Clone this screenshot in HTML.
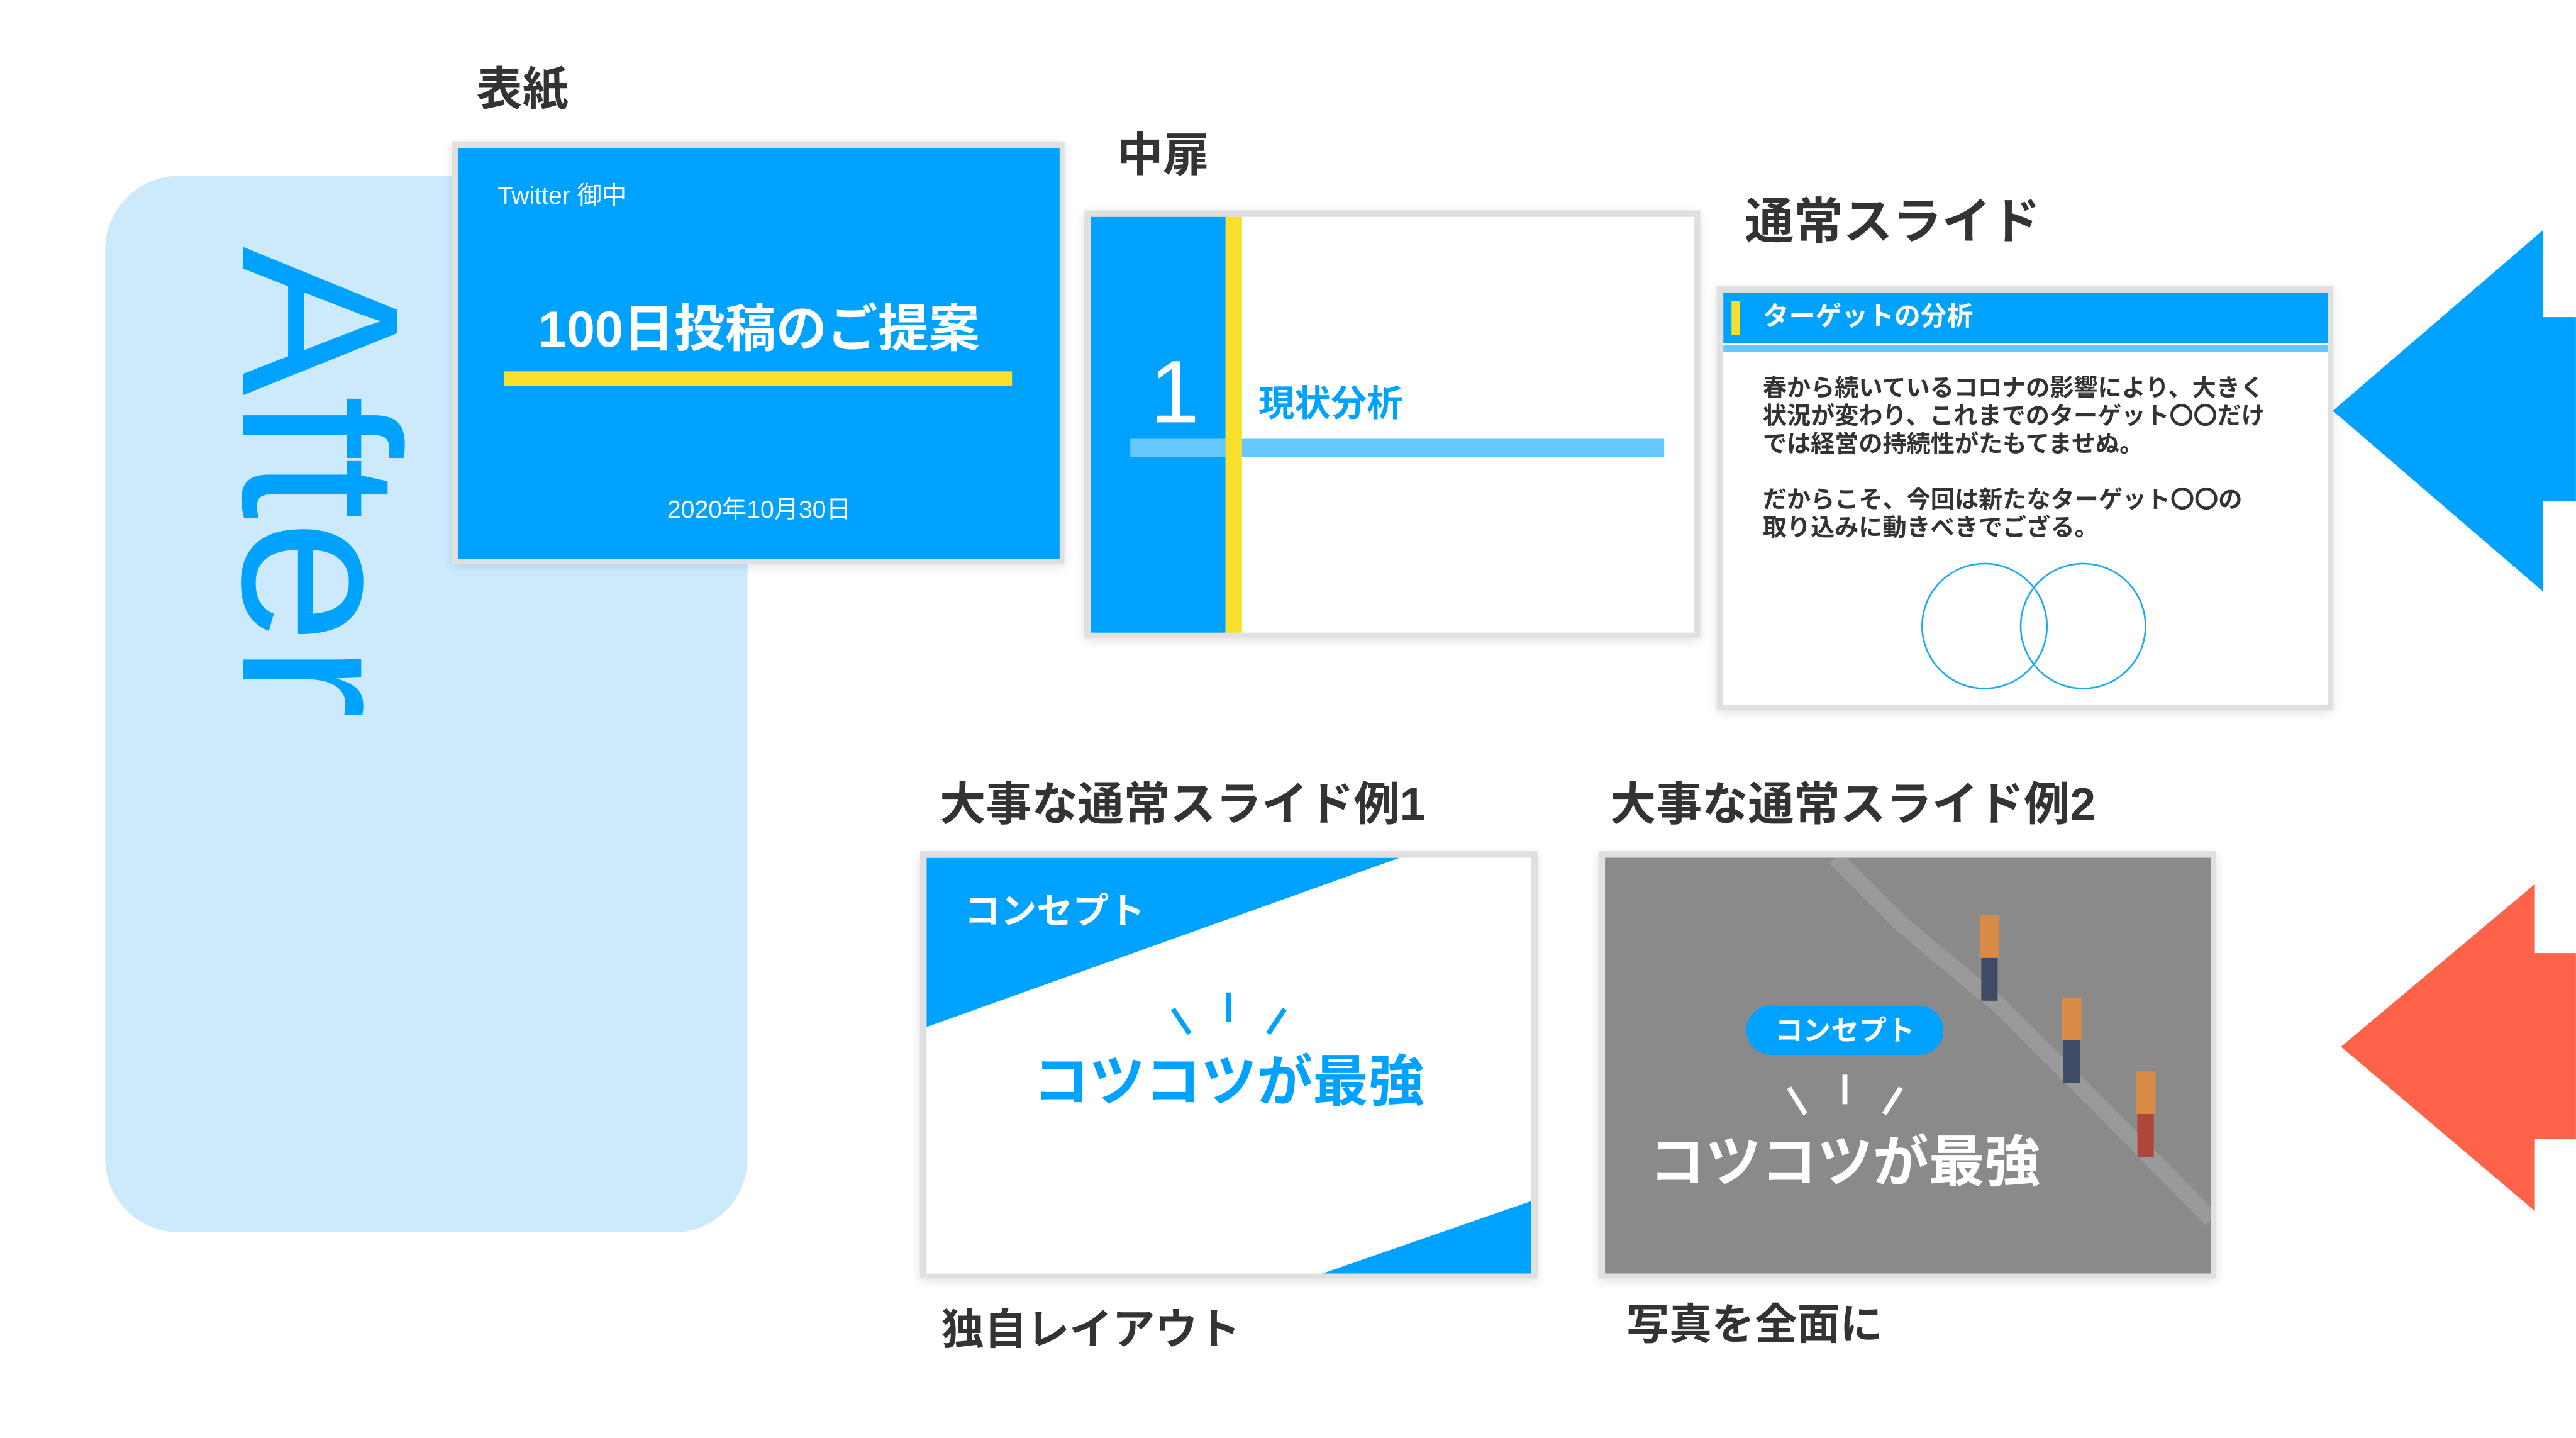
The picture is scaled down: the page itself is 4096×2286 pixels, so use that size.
<!DOCTYPE html>
<html><head><meta charset="utf-8"><style>
html,body{margin:0;padding:0;background:#fff;}
body{width:4096px;height:2285px;overflow:hidden;position:relative;}
#s{position:absolute;left:0;top:0;width:1568px;height:875px;transform:scale(2.6122);transform-origin:0 0;font-family:"Liberation Sans","Noto Sans CJK JP",sans-serif;}
#s div{position:absolute;}
.lbl{color:#333;font-weight:bold;font-size:28px;white-space:nowrap;line-height:1;}
.frame{background:#e0e0e0;box-shadow:0 2px 6px rgba(0,0,0,0.12);}
.t{white-space:nowrap;line-height:1;}
</style></head><body><div id="s">
<div style="left:64px;top:107px;width:391px;height:643px;background:#cdeafd;border-radius:45px;"></div>
<div class="t" style="left:263px;top:150px;font-size:136px;color:#00a2ff;transform-origin:0 0;transform:rotate(90deg);">After</div>

<div class="lbl" style="left:290px;top:41px;">表紙</div>
<div class="frame" style="left:275px;top:86px;width:373px;height:257px;"></div>
<div style="left:279px;top:90px;width:366px;height:250px;background:#00a2ff;"></div>
<div class="t" style="left:303px;top:112px;color:#fff;font-size:15px;">Twitter 御中</div>
<div class="t" style="left:279px;top:185px;width:366px;text-align:center;color:#fff;font-size:31px;font-weight:bold;">100日投稿のご提案</div>
<div style="left:307px;top:226px;width:309px;height:9px;background:#f7df2a;"></div>
<div class="t" style="left:279px;top:303px;width:366px;text-align:center;color:#fff;font-size:15px;">2020年10月30日</div>

<div class="lbl" style="left:680px;top:81px;">中扉</div>
<div class="frame" style="left:660px;top:128px;width:375px;height:260px;"></div>
<div style="left:664px;top:132px;width:367px;height:253px;background:#fff;"></div>
<div style="left:664px;top:132px;width:82px;height:253px;background:#00a2ff;"></div>
<div style="left:688px;top:267px;width:325px;height:11px;background:#66c8ff;"></div>
<div style="left:746px;top:132px;width:10px;height:253px;background:#f7df2a;"></div>
<div class="t" style="left:700px;top:212px;color:#fff;font-size:54px;">1</div>
<div class="t" style="left:766px;top:235px;color:#00a2ff;font-size:22px;font-weight:bold;">現状分析</div>

<div class="lbl" style="left:1062px;top:121px;font-size:30px;">通常スライド</div>
<div class="frame" style="left:1045px;top:174px;width:375px;height:258px;"></div>
<div style="left:1049px;top:178px;width:368px;height:251px;background:#fff;"></div>
<div style="left:1049px;top:178px;width:368px;height:31px;background:#00a2ff;"></div>
<div style="left:1049px;top:210px;width:368px;height:4px;background:#66c8ff;"></div>
<div style="left:1054px;top:183px;width:5px;height:21px;background:#f7df2a;"></div>
<div class="t" style="left:1073px;top:186px;color:#fff;font-size:16px;font-weight:bold;">ターゲットの分析</div>
<div style="left:1073px;top:229px;color:#333;font-size:14.6px;line-height:17px;font-weight:bold;white-space:nowrap;">春から続いているコロナの影響により、大きく<br>状況が変わり、これまでのターゲット〇〇だけ<br>では経営の持続性がたもてませぬ。<br><br>だからこそ、今回は新たなターゲット〇〇の<br>取り込みに動きべきでござる。</div>
<svg style="position:absolute;left:1160px;top:335px;" width="160" height="95"><ellipse cx="48" cy="46" rx="38" ry="38" fill="none" stroke="#1aa9f5" stroke-width="1"/><ellipse cx="108" cy="46" rx="38" ry="38" fill="none" stroke="#1aa9f5" stroke-width="1"/></svg>

<svg style="position:absolute;left:1400px;top:130px;" width="168" height="620">
<polygon points="20,120 148,10 148,63 168,63 168,175 148,175 148,230" fill="#00a2ff"/>
<polygon points="25,507 143,408 143,450 168,450 168,563 143,563 143,607" fill="#fe634a"/>
</svg>

<div class="lbl" style="left:572px;top:476px;">大事な通常スライド例1</div>
<div class="frame" style="left:560px;top:518px;width:376px;height:260px;"></div>
<div style="left:564px;top:522px;width:368px;height:253px;background:#fff;"></div>
<svg style="position:absolute;left:564px;top:522px;" width="368" height="253">
<polygon points="0,0 288,0 0,103" fill="#00a2ff"/>
<polygon points="368,209 368,253 241,253" fill="#00a2ff"/>
<g stroke="#00a2ff" stroke-width="3"><line x1="184" y1="82" x2="184" y2="100"/><line x1="150" y1="92" x2="160" y2="107"/><line x1="218" y1="92" x2="208" y2="107"/></g>
</svg>
<div class="t" style="left:587px;top:544px;color:#fff;font-size:22px;font-weight:bold;">コンセプト</div>
<div class="t" style="left:564px;top:642px;width:368px;text-align:center;color:#00a2ff;font-size:34px;font-weight:bold;">コツコツが最強</div>

<div class="lbl" style="left:980px;top:476px;">大事な通常スライド例2</div>
<div class="frame" style="left:973px;top:518px;width:376px;height:260px;"></div>
<div style="left:977px;top:522px;width:369px;height:253px;background:#8a8a8a;overflow:hidden;">
<svg width="369" height="253" style="position:absolute;left:0;top:0;">
<polyline points="140,0 180,40 240,90 300,150 369,220" fill="none" stroke="#9a9a9a" stroke-width="10"/>
<g fill="#d98a45"><rect x="228" y="35" width="12" height="26"/><rect x="278" y="85" width="12" height="26"/><rect x="323" y="130" width="12" height="26"/></g>
<g fill="#3f4c66"><rect x="229" y="61" width="10" height="26"/><rect x="279" y="111" width="10" height="26"/></g>
<rect x="324" y="156" width="10" height="26" fill="#b0453a"/>
</svg>
<div style="left:86px;top:90px;width:120px;height:30px;border-radius:15px;background:#00a2ff;"></div>
<div class="t" style="left:86px;top:97px;width:120px;text-align:center;color:#fff;font-size:17px;font-weight:bold;">コンセプト</div>
<svg width="369" height="253" style="position:absolute;left:0;top:0;"><g stroke="#fff" stroke-width="3"><line x1="146" y1="132" x2="146" y2="150"/><line x1="112" y1="140" x2="122" y2="156"/><line x1="180" y1="140" x2="170" y2="156"/></g></svg>
<div class="t" style="left:0;top:169px;width:292px;text-align:center;color:#fff;font-size:34px;font-weight:bold;">コツコツが最強</div>
</div>

<div class="lbl" style="left:573px;top:796px;font-size:26px;">独自レイアウト</div>
<div class="lbl" style="left:990px;top:793px;font-size:26px;">写真を全面に</div>
</div></body></html>
